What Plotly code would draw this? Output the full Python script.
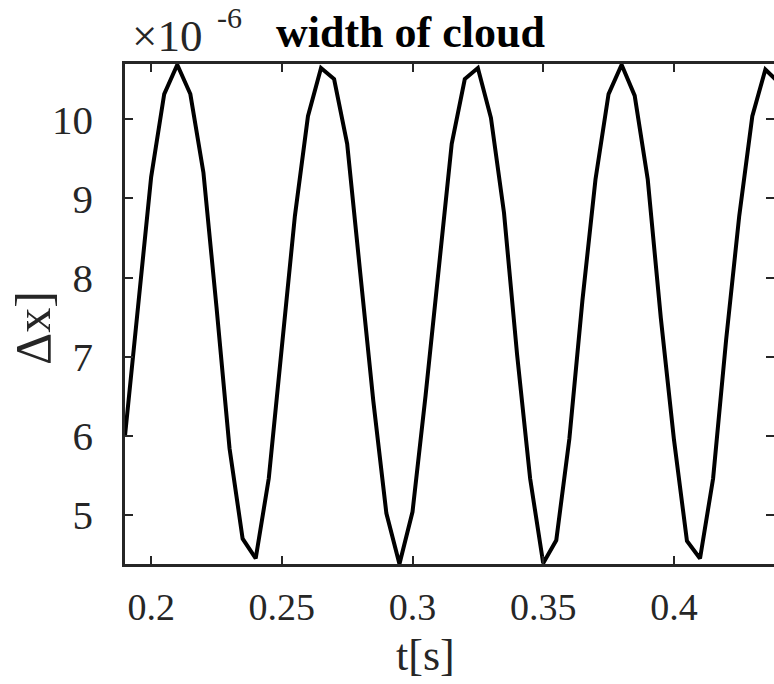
import plotly.graph_objects as go

# time samples [s]
t = [0.190, 0.195, 0.200, 0.205, 0.210, 0.215, 0.220, 0.225, 0.230, 0.235,
     0.240, 0.245, 0.250, 0.255, 0.260, 0.265, 0.270, 0.275, 0.280, 0.285,
     0.290, 0.295, 0.300, 0.305, 0.310, 0.315, 0.320, 0.325, 0.330, 0.335,
     0.340, 0.345, 0.350, 0.355, 0.360, 0.365, 0.370, 0.375, 0.380, 0.385,
     0.390, 0.395, 0.400, 0.405, 0.410, 0.415, 0.420, 0.425, 0.430, 0.435,
     0.440]
# width of cloud, in units of 1e-6
dx = [6.00, 7.65, 9.27, 10.32, 10.69, 10.32, 9.33, 7.63, 5.84, 4.70,
      4.45, 5.46, 7.14, 8.78, 10.04, 10.65, 10.51, 9.69, 8.06, 6.44,
      5.02, 4.38, 5.04, 6.51, 8.10, 9.69, 10.51, 10.65, 10.02, 8.82,
      7.03, 5.46, 4.39, 4.68, 5.96, 7.71, 9.24, 10.32, 10.69, 10.30,
      9.24, 7.49, 5.96, 4.67, 4.45, 5.46, 7.22, 8.78, 10.04, 10.63,
      10.47]

x_ticks = [0.2, 0.25, 0.3, 0.35, 0.4]
x_ticktext = ["0.2", "0.25", "0.3", "0.35", "0.4"]
y_ticks = [5, 6, 7, 8, 9, 10]
y_ticktext = ["5", "6", "7", "8", "9", "10"]

FONT = "Liberation Serif, Times New Roman, serif"
AX = "#262626"
W, H = 774, 684
L, T, B = 125, 64, 120
PW, PH = W - L, H - T - B

def px(x):
    return (x - L) / PW

def py(y):
    return (H - B - y) / PH

fig = go.Figure()
fig.add_trace(go.Scatter(x=t, y=dx, mode="lines",
                         line=dict(color="black", width=4),
                         showlegend=False, cliponaxis=True))
# invisible trace on right axis for right-side ticks
fig.add_trace(go.Scatter(x=t, y=dx, mode="lines", yaxis="y2",
                         line=dict(color="rgba(0,0,0,0)"),
                         showlegend=False, hoverinfo="skip"))

yr = [4.38, 10.70]
fig.update_layout(
    width=W, height=H,
    margin=dict(l=L, r=0, t=T, b=B),
    paper_bgcolor="white", plot_bgcolor="white",
    font=dict(family=FONT, size=40, color="#262626"),
    xaxis=dict(range=[0.19, 0.4383], tickvals=x_ticks, ticktext=x_ticktext,
               ticks="inside", ticklen=8, tickwidth=2, tickcolor=AX,
               showline=True, linecolor=AX, linewidth=2.5, mirror="ticks",
               showgrid=False, zeroline=False,
               tickfont=dict(family=FONT, size=38, color="#262626"),
               ticklabelstandoff=8),
    yaxis=dict(range=yr, tickvals=y_ticks, ticktext=y_ticktext,
               ticks="inside", ticklen=8, tickwidth=2, tickcolor=AX,
               showline=True, linecolor=AX, linewidth=2.5, mirror=False,
               showgrid=False, zeroline=False,
               tickfont=dict(family=FONT, size=41, color="#262626"),
               ticklabelstandoff=21),
    yaxis2=dict(range=yr, tickvals=y_ticks, overlaying="y", side="right",
                ticks="inside", ticklen=8, tickwidth=2, tickcolor=AX,
                showline=False, showgrid=False, zeroline=False,
                showticklabels=False),
    annotations=[
        dict(text="<b>width of cloud</b>", x=px(410), y=py(33), xref="paper", yref="paper",
             showarrow=False, xanchor="center", yanchor="middle",
             font=dict(family=FONT, size=44, color="black")),
        dict(text="×10", x=px(167), y=py(36), xref="paper", yref="paper",
             showarrow=False, xanchor="center", yanchor="middle",
             font=dict(family=FONT, size=45, color="#262626")),
        dict(text="-6", x=px(229), y=py(18), xref="paper", yref="paper",
             showarrow=False, xanchor="center", yanchor="middle",
             font=dict(family=FONT, size=30, color="#262626")),
        dict(text="t[s]", x=px(425), y=py(655), xref="paper", yref="paper",
             showarrow=False, xanchor="center", yanchor="middle",
             font=dict(family=FONT, size=44, color="#262626")),
        dict(text="Δx]", x=px(33), y=py(328), xref="paper", yref="paper",
             showarrow=False, xanchor="center", yanchor="middle", textangle=-90,
             font=dict(family=FONT, size=50, color="#262626")),
    ],
)

fig.write_html("out.html")
